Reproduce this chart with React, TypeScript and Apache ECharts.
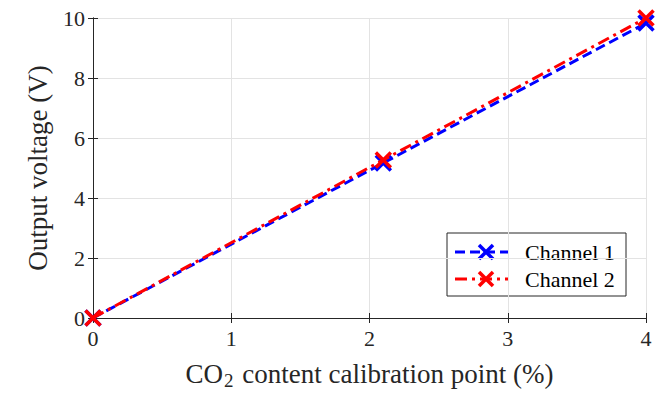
import React, { useEffect, useRef } from "react";
import * as echarts from "echarts";

const xValues = [0, 2.1, 4];
const channel1 = [0, 5.17, 9.83];
const channel2 = [0, 5.27, 10];
const seriesNames = ["Channel 1", "Channel 2"];
const xTicks = [0, 1, 2, 3, 4];
const yTicks = [0, 2, 4, 6, 8, 10];

const FONT = "Liberation Serif";
const TXT = "#262626";
const COLORS = ["#0000ff", "#ff0000"];
const DASHES: any[] = [[10, 5], [12, 5, 3, 5]];
const X_SYMBOL = "path://M0,0L10,10M10,0L0,10";

export default function App() {
  const ref = useRef<HTMLDivElement>(null);
  useEffect(() => {
    if (!ref.current) return;
    const chart = echarts.init(ref.current, undefined, { renderer: "svg" });
    const axisCommon = {
      axisLine: { show: true, lineStyle: { color: TXT, width: 1 } },
      axisTick: { show: true, inside: true, length: 5, lineStyle: { color: TXT } },
    };
    const allData = [channel1, channel2];
    const series = seriesNames.map((name, k) => ({
      name,
      type: "line",
      data: xValues.map((x, i) => [x, allData[k][i]]),
      lineStyle: { color: COLORS[k], width: 3, type: DASHES[k] },
      symbol: X_SYMBOL,
      symbolSize: 15,
      itemStyle: { color: "none", borderColor: COLORS[k], borderWidth: 3.5 },
      z: 2 + k,
    }));

    const lgX = 447, lgY = 233, lgW = 179, lgH = 63;
    const rowY = [252, 279];
    const legendChildren: any[] = [
      {
        type: "rect",
        shape: { x: lgX, y: lgY, width: lgW, height: lgH },
        style: { fill: "#ffffff", stroke: TXT, lineWidth: 1 },
      },
    ];
    seriesNames.forEach((name, k) => {
      const cy = rowY[k];
      const cx = 486;
      legendChildren.push(
        {
          type: "line",
          shape: { x1: 455, y1: cy, x2: 509, y2: cy },
          style: { stroke: COLORS[k], lineWidth: 3, lineDash: DASHES[k] },
        },
        {
          type: "line",
          shape: { x1: cx - 7, y1: cy - 7, x2: cx + 7, y2: cy + 7 },
          style: { stroke: COLORS[k], lineWidth: 3.5 },
        },
        {
          type: "line",
          shape: { x1: cx - 7, y1: cy + 7, x2: cx + 7, y2: cy - 7 },
          style: { stroke: COLORS[k], lineWidth: 3.5 },
        },
        {
          type: "text",
          x: 525,
          y: cy,
          style: {
            text: name,
            fontFamily: FONT,
            fontSize: 22,
            fill: "#000",
            align: "left",
            verticalAlign: "middle",
          },
        }
      );
    });

    chart.setOption({
      animation: false,
      backgroundColor: "#ffffff",
      textStyle: { fontFamily: FONT, color: TXT },
      grid: { left: 93, right: 25, top: 18, bottom: 79, containLabel: false },
      xAxis: [
        {
          type: "value",
          min: 0,
          max: 4,
          interval: 1,
          ...axisCommon,
          axisLabel: {
            fontFamily: FONT,
            fontSize: 22,
            color: TXT,
            margin: 9,
            formatter: (v: number) => (xTicks.includes(v) ? String(v) : ""),
          },
          splitLine: { show: true, lineStyle: { color: "#e3e3e3", width: 1 } },
          name: "{a|CO}{s|2}{a| content calibration point (%)}",
          nameLocation: "middle",
          nameGap: 39,
          nameTextStyle: {
            rich: {
              a: { fontFamily: FONT, fontSize: 27, color: TXT },
              s: { fontFamily: FONT, fontSize: 19, color: TXT, verticalAlign: "bottom", padding: [14, 2, 0, 1] },
            },
          },
        },
        {
          type: "value",
          position: "top",
          min: 0,
          max: 4,
          interval: 1,
          ...axisCommon,
          axisLabel: { show: false },
          splitLine: { show: false },
        },
      ],
      yAxis: [
        {
          type: "value",
          min: 0,
          max: 10,
          interval: 2,
          ...axisCommon,
          axisLabel: {
            fontFamily: FONT,
            fontSize: 22,
            color: TXT,
            margin: 8,
            formatter: (v: number) => (yTicks.includes(v) ? String(v) : ""),
          },
          splitLine: { show: true, lineStyle: { color: "#e3e3e3", width: 1 } },
          name: "Output voltage (V)",
          nameLocation: "middle",
          nameGap: 42,
          nameTextStyle: { fontFamily: FONT, fontSize: 27, color: TXT },
        },
        {
          type: "value",
          position: "right",
          min: 0,
          max: 10,
          interval: 2,
          ...axisCommon,
          axisLabel: { show: false },
          splitLine: { show: false },
        },
      ],
      graphic: [{ type: "group", z: 100, children: legendChildren }],
      series,
    });
    return () => chart.dispose();
  }, []);
  return (
    <div
      ref={ref}
      style={{ position: "fixed", left: 0, top: 0, width: 671, height: 397 }}
    />
  );
}
